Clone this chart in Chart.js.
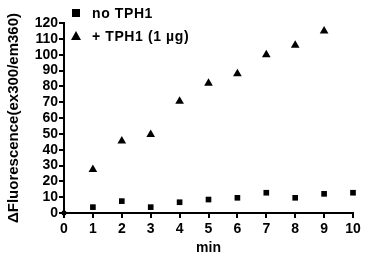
<!DOCTYPE html>
<html>
<head>
<meta charset="utf-8">
<script src="https://cdn.jsdelivr.net/npm/chart.js@4"></script>
<style>
  body { margin: 0; background: #fff; }
  #wrap { position: relative; width: 378px; height: 265px; }
  .leg { position: absolute; left: 92px; font: bold 14px "Liberation Sans", Arial, sans-serif; letter-spacing: 0.6px; color: #000; line-height: 16px; }
  .sq { position: absolute; left: 72px; top: 9px; width: 8px; height: 8px; background: #000; }
  .tri { position: absolute; left: 71px; top: 31px; width: 0; height: 0; border-left: 5px solid transparent; border-right: 5px solid transparent; border-bottom: 9px solid #000; }
</style>
</head>
<body>
<div id="wrap">
  <canvas id="chart" width="378" height="265"></canvas>
  <div class="sq"></div>
  <div class="leg" style="top:5px">no TPH1</div>
  <div class="tri"></div>
  <div class="leg" style="top:28px">+ TPH1 (1 µg)</div>
</div>
<script>
const minutes = [0, 1, 2, 3, 4, 5, 6, 7, 8, 9, 10];
const noTph1 = [0, 3.7, 7.5, 3.7, 6.8, 8.5, 9.6, 12.8, 9.6, 12.1, 12.8];
const tph1Minutes = [1, 2, 3, 4, 5, 6, 7, 8, 9];
const tph1 = [27.5, 45.4, 49.6, 70.6, 82, 88, 100, 106, 115];
const yTicks = [0, 10, 20, 30, 40, 50, 60, 70, 80, 90, 100, 110, 120];

const font = { family: '"Liberation Sans", Arial, sans-serif', size: 14, weight: 'bold' };

new Chart(document.getElementById('chart'), {
  type: 'scatter',
  data: {
    datasets: [{
      label: 'no TPH1',
      data: minutes.map((m, i) => ({ x: m, y: noTph1[i] })),
      pointStyle: 'rect',
      pointRadius: ctx => ctx.dataIndex === 0 ? 3 : 4,
      backgroundColor: '#000',
      borderColor: '#000',
      borderWidth: 0,
      clip: false
    }, {
      label: '+ TPH1 (1 µg)',
      data: tph1Minutes.map((m, i) => ({ x: m, y: tph1[i] })),
      pointStyle: 'triangle',
      pointRadius: 5,
      backgroundColor: '#000',
      borderColor: '#000',
      borderWidth: 0
    }]
  },
  options: {
    responsive: false,
    animation: false,
    layout: { padding: { left: 5, right: 25, top: 23, bottom: 4 } },
    plugins: { legend: { display: false }, tooltip: { enabled: false } },
    scales: {
      x: {
        type: 'linear',
        min: 0, max: 10,
        afterFit: s => { s.height = 48; },
        ticks: { stepSize: 1, autoSkip: false, color: '#000', font: font, padding: 3 },
        grid: { drawOnChartArea: false, drawTicks: true, tickLength: 5, color: '#000', lineWidth: 2 },
        border: { color: '#000', width: 2 },
        title: { display: true, text: 'min', color: '#000', font: font, padding: { top: 1 } }
      },
      y: {
        min: 0, max: 120,
        afterFit: s => { s.width = 59; },
        afterBuildTicks: s => { s.ticks = yTicks.map(v => ({ value: v })); },
        ticks: { autoSkip: false, color: '#000', font: font, padding: 1 },
        grid: { drawOnChartArea: false, drawTicks: true, tickLength: 5, color: '#000', lineWidth: 2 },
        border: { color: '#000', width: 2 },
        title: { display: true, text: 'ΔFluorescence(ex300/em360)', color: '#000', font: { ...font, size: 15 }, padding: 0 }
      }
    }
  }
});
</script>
</body>
</html>
